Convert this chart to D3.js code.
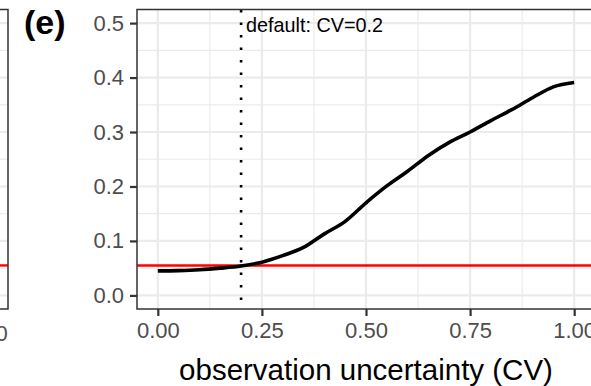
<!DOCTYPE html>
<html>
<head>
<meta charset="utf-8">
<script src="https://cdn.jsdelivr.net/npm/d3@7"></script>
<style>
  html, body { margin: 0; padding: 0; background: #fff; overflow: hidden; }
  svg { display: block; font-family: "Liberation Sans", Arial, sans-serif; }
</style>
</head>
<body>
<svg id="chart" width="591" height="386"></svg>
<script>
// Simulated rate as a function of observation uncertainty (CV)
const cvValues   = [0.00, 0.05, 0.10, 0.15, 0.20, 0.25, 0.30, 0.35, 0.40, 0.45, 0.50,
                    0.55, 0.60, 0.65, 0.70, 0.75, 0.80, 0.85, 0.90, 0.95, 1.00];
const rateValues = [0.045, 0.0455, 0.047, 0.050, 0.054, 0.061, 0.073, 0.088, 0.113, 0.136, 0.170,
                    0.201, 0.228, 0.257, 0.281, 0.300, 0.321, 0.341, 0.363, 0.383, 0.391];

const referenceLevel = 0.055;      // horizontal red reference line
const defaultCV = 0.2;             // dotted vertical marker
const defaultLabel = "default: CV=0.2";

const xTicks = [0, 0.25, 0.5, 0.75, 1];
const xTickLabels = ["0.00", "0.25", "0.50", "0.75", "1.00"];
const xMinor = [0.125, 0.375, 0.625, 0.875];
const yTicks = [0, 0.1, 0.2, 0.3, 0.4, 0.5];
const yTickLabels = ["0.0", "0.1", "0.2", "0.3", "0.4", "0.5"];
const yMinor = [0.05, 0.15, 0.25, 0.35, 0.45];

const panelTitle = "(e)";
const xTitle = "observation uncertainty (CV)";

const svg = d3.select("#chart");

// panel box
const panel = { left: 137, right: 595, top: 9.5, bottom: 309 };

const x = d3.scaleLinear().domain([-0.05, 1.05]).range([panel.left, panel.right]);
const y = d3.scaleLinear().domain([-0.025, 0.525]).range([panel.bottom, panel.top]);

const tickColor = "#333333";
const labelColor = "#4D4D4D";
const gridColor = "#EBEBEB";

// ---- neighbouring panel (only its right edge falls inside the frame) ----
const leftPanel = { left: -460, right: 8 };
const xLeft = d3.scaleLinear().domain([-0.05, 1.05]).range([leftPanel.left, leftPanel.right]);
const gLeft = svg.append("g");
gLeft.selectAll("line.minor").data(yMinor).join("line")
  .attr("x1", 0).attr("x2", leftPanel.right)
  .attr("y1", d => y(d)).attr("y2", d => y(d))
  .attr("stroke", gridColor).attr("stroke-width", 1.2);
gLeft.selectAll("line.major").data(yTicks).join("line")
  .attr("x1", 0).attr("x2", leftPanel.right)
  .attr("y1", d => y(d)).attr("y2", d => y(d))
  .attr("stroke", gridColor).attr("stroke-width", 2.2);
gLeft.append("line")
  .attr("x1", 0).attr("x2", leftPanel.right)
  .attr("y1", y(referenceLevel)).attr("y2", y(referenceLevel))
  .attr("stroke", "#FF0000").attr("stroke-width", 2.4);
gLeft.append("path")
  .attr("d", `M0,${panel.top}H${leftPanel.right}V${panel.bottom}H0`)
  .attr("fill", "none").attr("stroke", tickColor).attr("stroke-width", 1.5);
gLeft.append("text")
  .attr("x", xLeft(1)).attr("y", 341)
  .attr("text-anchor", "middle")
  .attr("font-size", 21.5).attr("fill", labelColor)
  .text("1.00");

// ---- main panel ----
const g = svg.append("g");
const clipId = "panel-clip";
svg.append("defs").append("clipPath").attr("id", clipId)
  .append("rect")
  .attr("x", panel.left).attr("y", panel.top)
  .attr("width", panel.right - panel.left).attr("height", panel.bottom - panel.top);

const inner = g.append("g").attr("clip-path", `url(#${clipId})`);

// minor grid
inner.selectAll("line.xminor").data(xMinor).join("line")
  .attr("x1", d => x(d)).attr("x2", d => x(d))
  .attr("y1", panel.top).attr("y2", panel.bottom)
  .attr("stroke", gridColor).attr("stroke-width", 1.2);
inner.selectAll("line.yminor").data(yMinor).join("line")
  .attr("x1", panel.left).attr("x2", panel.right)
  .attr("y1", d => y(d)).attr("y2", d => y(d))
  .attr("stroke", gridColor).attr("stroke-width", 1.2);
// major grid
inner.selectAll("line.xmajor").data(xTicks).join("line")
  .attr("x1", d => x(d)).attr("x2", d => x(d))
  .attr("y1", panel.top).attr("y2", panel.bottom)
  .attr("stroke", gridColor).attr("stroke-width", 2.2);
inner.selectAll("line.ymajor").data(yTicks).join("line")
  .attr("x1", panel.left).attr("x2", panel.right)
  .attr("y1", d => y(d)).attr("y2", d => y(d))
  .attr("stroke", gridColor).attr("stroke-width", 2.2);

// reference level
inner.append("line")
  .attr("x1", panel.left).attr("x2", panel.right)
  .attr("y1", y(referenceLevel)).attr("y2", y(referenceLevel))
  .attr("stroke", "#FF0000").attr("stroke-width", 2.4);

// default CV marker
inner.append("line")
  .attr("x1", x(defaultCV)).attr("x2", x(defaultCV))
  .attr("y1", panel.top + 0.5).attr("y2", panel.bottom)
  .attr("stroke", "#000").attr("stroke-width", 2.6)
  .attr("stroke-dasharray", "2.4 10.1");

// curve
const line = d3.line()
  .x((d, i) => x(cvValues[i]))
  .y(d => y(d))
  .curve(d3.curveMonotoneX);
inner.append("path")
  .datum(rateValues)
  .attr("d", line)
  .attr("fill", "none")
  .attr("stroke", "#000")
  .attr("stroke-width", 3.6)
  .attr("stroke-linejoin", "round");

// annotation
inner.append("text")
  .attr("x", x(defaultCV) + 5).attr("y", y(0.5) + 8.5)
  .attr("font-size", 19.8).attr("fill", "#000")
  .text(defaultLabel);

// panel border
g.append("rect")
  .attr("x", panel.left).attr("y", panel.top)
  .attr("width", panel.right - panel.left).attr("height", panel.bottom - panel.top)
  .attr("fill", "none").attr("stroke", tickColor).attr("stroke-width", 1.5);

// y axis
const yAxis = d3.axisLeft(y).tickValues(yTicks)
  .tickFormat((d, i) => yTickLabels[i]).tickSize(7).tickPadding(6);
const gy = g.append("g").attr("transform", `translate(${panel.left},0)`).call(yAxis);
gy.select(".domain").remove();
gy.selectAll(".tick line").attr("stroke", tickColor).attr("stroke-width", 2.2);
gy.selectAll(".tick text").attr("fill", labelColor).attr("font-size", 22)
  .attr("font-family", "Liberation Sans, Arial, sans-serif");

// x axis
const xAxis = d3.axisBottom(x).tickValues(xTicks)
  .tickFormat((d, i) => xTickLabels[i]).tickSize(7).tickPadding(6);
const gx = g.append("g").attr("transform", `translate(0,${panel.bottom})`).call(xAxis);
gx.select(".domain").remove();
gx.selectAll(".tick line").attr("stroke", tickColor).attr("stroke-width", 2.2);
gx.selectAll(".tick text").attr("fill", labelColor).attr("font-size", 22)
  .attr("font-family", "Liberation Sans, Arial, sans-serif");

// axis title
svg.append("text")
  .attr("x", (panel.left + panel.right) / 2).attr("y", 380)
  .attr("text-anchor", "middle")
  .attr("font-size", 29.5).attr("fill", "#000")
  .text(xTitle);

// panel tag
svg.append("text")
  .attr("x", 24).attr("y", 34)
  .attr("font-size", 34).attr("font-weight", "bold").attr("fill", "#000")
  .text(panelTitle);
</script>
</body>
</html>
